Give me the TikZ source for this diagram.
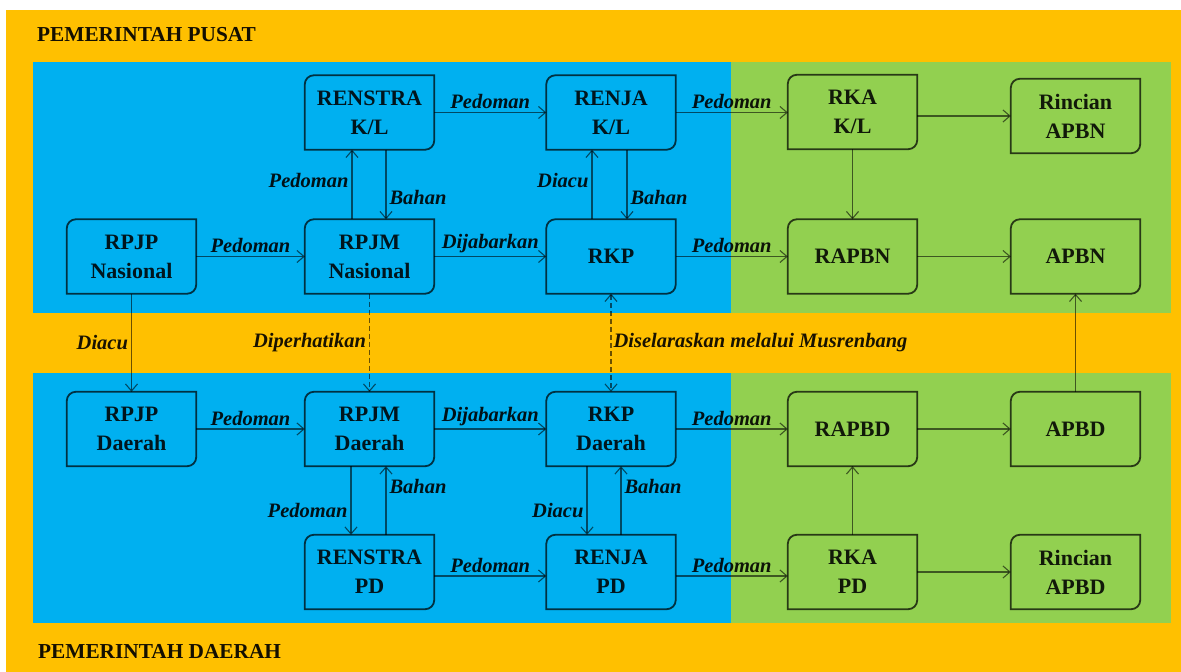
\documentclass[tikz,border=0pt]{standalone}
\usepackage{fontspec}
\setmainfont{Liberation Serif}
\usetikzlibrary{arrows.meta,calc}
\definecolor{orng}{HTML}{FFC000}
\definecolor{blu}{HTML}{00B0F0}
\definecolor{grn}{HTML}{92D050}
\begin{document}
\begin{tikzpicture}[x=1pt,y=1pt,
 box/.style={minimum width=129pt, minimum height=74pt, inner sep=0pt, align=center,
   font=\bfseries\fontsize{22}{29}\selectfont, text=black, text opacity=0.88},
 bline/.style={draw=black, draw opacity=0.72, line width=1.8pt},
 lbl/.style={font=\bfseries\itshape\fontsize{20.5}{22}\selectfont, text=black, text opacity=0.9, inner sep=3pt},
 conn/.style={draw=black, draw opacity=0.58, line width=1.1pt, -{Straight Barb[length=7pt,width=12pt]}},
 dconn/.style={conn, dash pattern=on 5pt off 3pt},
 head/.style={anchor=west, inner sep=0pt, font=\bfseries\fontsize{21.3}{24}\selectfont, text=black, text opacity=0.92}]
\useasboundingbox (0,0) rectangle (1181,672);
\fill[white] (0,0) rectangle (1181,672);
\fill[orng] (6,0) rectangle (1181,662);
\fill[blu] (33,359) rectangle (731,610);
\fill[grn] (731,359) rectangle (1171,610);
\fill[blu] (33,49) rectangle (731,299);
\fill[grn] (731,49) rectangle (1171,299);

\node[head] (hp) at (37,637) {PEMERINTAH PUSAT};
\node[head] (hd) at (38,21) {PEMERINTAH DAERAH};

\node[box] (RPJPN) at (131.5,415.5) {RPJP\\Nasional};
\node[box] (RPJMN) at (369.5,415.5) {RPJM\\Nasional};
\node[box] (RENSKL) at (369.5,559.5) {RENSTRA\\K/L};
\node[box] (RENJKL) at (611,559.5) {RENJA\\K/L};
\node[box] (RKP) at (611,415.5) {RKP};
\node[box] (RKAKL) at (852.5,560) {RKA\\K/L};
\node[box] (RINCN) at (1075.5,556) {Rincian\\APBN};
\node[box] (RAPBN) at (852.5,415.5) {RAPBN};
\node[box] (APBN) at (1075.5,415.5) {APBN};
\node[box] (RPJPD) at (131.5,243) {RPJP\\Daerah};
\node[box] (RPJMD) at (369.5,243) {RPJM\\Daerah};
\node[box] (RKPD) at (611,243) {RKP\\Daerah};
\node[box] (RAPBD) at (852.5,243) {RAPBD};
\node[box] (APBD) at (1075.5,243) {APBD};
\node[box] (RENSPD) at (369.5,100) {RENSTRA\\PD};
\node[box] (RENJPD) at (611,100) {RENJA\\PD};
\node[box] (RKAPD) at (852.5,100) {RKA\\PD};
\node[box] (RINCD) at (1075.5,100) {Rincian\\APBD};

\foreach \n in {RPJPN,RPJMN,RENSKL,RENJKL,RKP,RKAKL,RINCN,RAPBN,APBN,RPJPD,RPJMD,RKPD,RAPBD,APBD,RENSPD,RENJPD,RKAPD,RINCD}
  \draw[bline] (\n.south west) -- ([yshift=-9pt]\n.north west) arc[start angle=180,end angle=90,radius=9pt]
     -- (\n.north east) -- ([yshift=9pt]\n.south east) arc[start angle=0,end angle=-90,radius=9pt] -- cycle;

% top panel
\draw[conn] ([xshift=-17.5pt]RPJMN.north) -- node[lbl,left,pos=0.56]{Pedoman} ([xshift=-17.5pt]RENSKL.south);
\draw[conn] ([xshift=16.5pt]RENSKL.south) -- node[lbl,right,pos=0.69]{Bahan} ([xshift=16.5pt]RPJMN.north);
\draw[conn] (RENSKL.east) -- node[lbl,above]{Pedoman} (RENJKL.west);
\draw[conn] (RENJKL.east) -- node[lbl,above]{Pedoman} (RKAKL.west |- RENJKL.east);
\draw[conn] (RKAKL.east |- RINCN.west) -- (RINCN.west);
\draw[conn] (RKAKL.south) -- (RAPBN.north);
\draw[conn] (RPJPN.east) -- node[lbl,above]{Pedoman} (RPJMN.west);
\draw[conn] (RPJMN.east) -- node[lbl,above]{Dijabarkan} (RKP.west);
\draw[conn] ([xshift=-19pt]RKP.north) -- node[lbl,left,pos=0.56]{Diacu} ([xshift=-19pt]RENJKL.south);
\draw[conn] ([xshift=16pt]RENJKL.south) -- node[lbl,right,pos=0.69]{Bahan} ([xshift=16pt]RKP.north);
\draw[conn] (RKP.east) -- node[lbl,above]{Pedoman} (RAPBN.west);
\draw[conn] (RAPBN.east) -- (APBN.west);

% between panels
\draw[conn] (RPJPN.south) -- node[lbl,left]{Diacu} (RPJPD.north);
\draw[dconn] (RPJMN.south) -- node[lbl,left]{Diperhatikan} (RPJMD.north);
\draw[dconn,{Straight Barb[length=7pt,width=12pt]}-{Straight Barb[length=7pt,width=12pt]}] (RKP.south) -- node[lbl,right,inner sep=2pt]{Diselaraskan melalui Musrenbang} (RKPD.north);
\draw[conn] (APBD.north) -- (APBN.south);

% bottom panel
\draw[conn] (RPJPD.east) -- node[lbl,above]{Pedoman} (RPJMD.west);
\draw[conn] (RPJMD.east) -- node[lbl,above]{Dijabarkan} (RKPD.west);
\draw[conn] (RKPD.east) -- node[lbl,above]{Pedoman} (RAPBD.west);
\draw[conn] (RAPBD.east) -- (APBD.west);
\draw[conn] ([xshift=-18.5pt]RPJMD.south) -- node[lbl,left,pos=0.64]{Pedoman} ([xshift=-18.5pt]RENSPD.north);
\draw[conn] ([xshift=16.5pt]RENSPD.north) -- node[lbl,right,pos=0.71]{Bahan} ([xshift=16.5pt]RPJMD.south);
\draw[conn] ([xshift=-24pt]RKPD.south) -- node[lbl,left,pos=0.64]{Diacu} ([xshift=-24pt]RENJPD.north);
\draw[conn] ([xshift=10pt]RENJPD.north) -- node[lbl,right,pos=0.71]{Bahan} ([xshift=10pt]RKPD.south);
\draw[conn] ([yshift=-4pt]RENSPD.east) -- node[lbl,above]{Pedoman} ([yshift=-4pt]RENJPD.west);
\draw[conn] ([yshift=-4pt]RENJPD.east) -- node[lbl,above]{Pedoman} ([yshift=-4pt]RKAPD.west);
\draw[conn] (RKAPD.north) -- (RAPBD.south);
\draw[conn] (RKAPD.east) -- (RINCD.west);
\end{tikzpicture}
\end{document}
